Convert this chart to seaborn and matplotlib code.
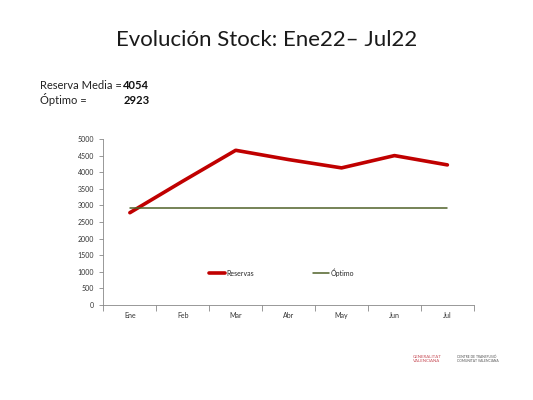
import matplotlib
matplotlib.use("Agg")
import matplotlib.pyplot as plt
import seaborn as sns
import pandas as pd
from matplotlib.ticker import FixedLocator

months = ['Ene', 'Feb', 'Mar', 'Abr', 'May', 'Jun', 'Jul']
reservas = [2780, 3730, 4660, 4380, 4130, 4500, 4220]
optimo = [2923, 2923, 2923, 2923, 2923, 2923, 2923]
yticks = [0, 500, 1000, 1500, 2000, 2500, 3000, 3500, 4000, 4500, 5000]
reserva_media = 4054
optimo_valor = 2923

sns.set_theme(style="white")
plt.rcParams['font.family'] = ['Lato', 'DejaVu Sans']

df = pd.DataFrame({'Mes': months, 'Reservas': reservas, 'Óptimo': optimo})
df['pos'] = range(len(months))

fig = plt.figure(figsize=(5.33, 4), dpi=100)
ax = fig.add_axes([0.194, 0.2375, 0.695, 0.415])

sns.lineplot(data=df, x='pos', y='Reservas', color='#C00000', linewidth=2.6,
             label='Reservas', ax=ax)
sns.lineplot(data=df, x='pos', y='Óptimo', color='#4F6228', linewidth=1.1,
             label='Óptimo', ax=ax)

ax.set_xlim(-0.5, len(months) - 0.5)
ax.set_ylim(0, 5000)
ax.set_xticks(range(len(months)))
ax.set_xticklabels(months)
ax.xaxis.set_minor_locator(FixedLocator([i - 0.5 for i in range(len(months) + 1)]))
ax.tick_params(axis='x', which='major', length=0, labelsize=5, colors='#333333', pad=5)
ax.tick_params(axis='x', which='minor', length=4, width=0.6, color='#888888', direction='out', bottom=True)
ax.set_yticks(yticks)
ax.tick_params(axis='y', length=3, width=0.6, color='#888888', labelsize=5,
               labelcolor='#333333', left=True, direction='out')
ax.set_xlabel('')
ax.set_ylabel('')
for side in ['top', 'right']:
    ax.spines[side].set_visible(False)
for side in ['left', 'bottom']:
    ax.spines[side].set_color('#888888')
    ax.spines[side].set_linewidth(0.6)

ax.legend(loc='center', bbox_to_anchor=(0.48, 0.195), ncol=2, frameon=False,
          fontsize=5, handlelength=2.4, handletextpad=0.1, columnspacing=8.5)

fig.text(0.5, 0.9, 'Evolución Stock: Ene22– Jul22', ha='center', va='center',
         fontsize=16, color='#1a1a1a')
fig.text(0.075, 0.787, 'Reserva Media = ', ha='left', va='center', fontsize=8, color='#222222')
fig.text(0.231, 0.787, str(reserva_media), ha='left', va='center', fontsize=8,
         fontweight='bold', color='#111111')
fig.text(0.075, 0.75, 'Óptimo =', ha='left', va='center', fontsize=8, color='#222222')
fig.text(0.231, 0.75, str(optimo_valor), ha='left', va='center', fontsize=8,
         fontweight='bold', color='#111111')

fig.text(0.775, 0.102, 'GENERALITAT\nVALENCIANA', ha='left', va='center', fontsize=3.2,
         color='#c8505a', linespacing=1.1)
fig.text(0.858, 0.102, 'CENTRE DE TRANSFUSIÓ\nCOMUNITAT VALENCIANA', ha='left', va='center',
         fontsize=2.4, color='#555555', linespacing=1.1)

fig.savefig('out.png', dpi=100)
